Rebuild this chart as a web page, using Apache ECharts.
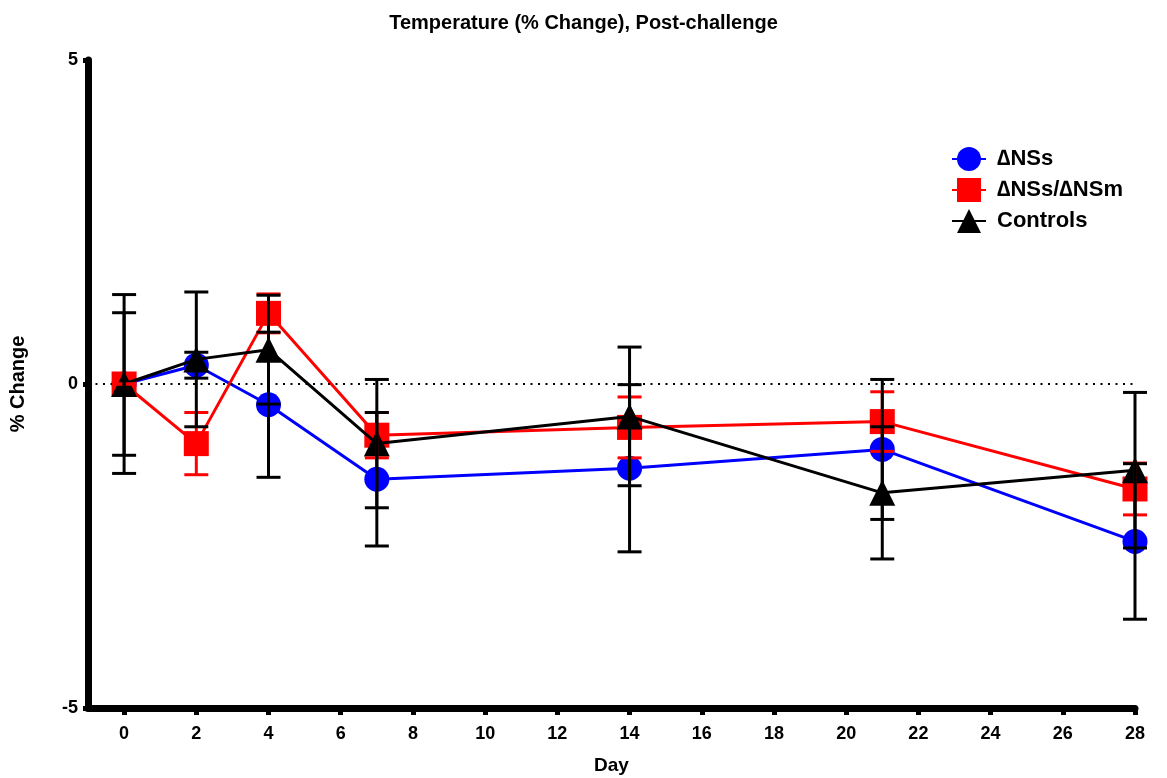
<!DOCTYPE html>
<html>
<head>
<meta charset="utf-8">
<title>Temperature (% Change), Post-challenge</title>
<script src="https://cdn.jsdelivr.net/npm/echarts@6/dist/echarts.min.js"></script>
<style>
    html, body { margin: 0; padding: 0; background: #fff; }
    #chart { width: 1167px; height: 778px; }
</style>
</head>
<body>
<div id="chart"></div>
<script>
// 数据 从图上读取
var days = [0, 2, 4, 7, 14, 21, 28]
var xTicks = [0, 2, 4, 6, 8, 10, 12, 14, 16, 18, 20, 22, 24, 26, 28]

var nssMean = [0, 0.29, -0.32, -1.47, -1.3, -1.01, -2.43]
var nssErr = [1.1, 0.2, 1.12, 1.03, 1.29, 1.08, 1.2]

var nsmMean = [0, -0.92, 1.09, -0.79, -0.67, -0.58, -1.62]
var nsmErr = [0, 0.48, 0.3, 0.35, 0.47, 0.46, 0.4]

var ctrlMean = [0, 0.38, 0.53, -0.92, -0.5, -1.68, -1.33]
var ctrlErr = [1.38, 1.04, 0.84, 0.99, 1.07, 1.02, 1.2]

var font = '"Liberation Sans Narrow", "Liberation Sans", Arial, sans-serif'
var legendFont = '"Liberation Sans", Arial, sans-serif'

function pairs(mean) {
    return days.map(function (d, i) { return [d, mean[i]] })
}
function errData(mean, err) {
    return days.map(function (d, i) { return [d, mean[i] - err[i], mean[i] + err[i]] })
}
// 误差线 竖线加两端横帽
function errRender(color) {
    return function (params, api) {
        var lo = api.coord([api.value(0), api.value(1)])
        var hi = api.coord([api.value(0), api.value(2)])
        var w = 12
        var style = { stroke: color, lineWidth: 3 }
        return {
            type: 'group',
            children: [
                { type: 'line', shape: { x1: lo[0], y1: lo[1], x2: hi[0], y2: hi[1] }, style: style },
                { type: 'line', shape: { x1: lo[0] - w, y1: lo[1], x2: lo[0] + w, y2: lo[1] }, style: style },
                { type: 'line', shape: { x1: hi[0] - w, y1: hi[1], x2: hi[0] + w, y2: hi[1] }, style: style },
            ],
        }
    }
}

var chart = echarts.init(document.getElementById('chart'))
var option = {
    animation: false,
    title: {
        text: 'Temperature (% Change), Post-challenge',
        left: 'center',
        top: 8,
        textStyle: { fontFamily: font, fontSize: 20, fontWeight: 'bold', color: '#000' },
    },
    legend: {
        orient: 'vertical',
        left: 946,
        top: 142,
        itemWidth: 34,
        itemHeight: 30,
        itemGap: 7,
        data: ['∆NSs', '∆NSs/∆NSm', 'Controls'],
        textStyle: {
            fontFamily: legendFont,
            fontSize: 22,
            fontWeight: 'bold',
            color: '#000',
            padding: [0, 0, 0, 6],
        },
    },
    grid: {
        left: 88,
        right: 32,
        top: 60,
        bottom: 70,
        outerBoundsMode: 'none',
        containLabel: false,
    },
    xAxis: {
        type: 'value',
        min: -1,
        max: 28,
        name: 'Day',
        nameLocation: 'middle',
        nameGap: 48,
        nameTextStyle: { fontFamily: font, fontSize: 19, fontWeight: 'bold', color: '#000' },
        axisLine: { onZero: false, lineStyle: { color: '#000', width: 7 } },
        axisTick: { customValues: xTicks, length: 7, lineStyle: { color: '#000', width: 5 } },
        axisLabel: {
            customValues: xTicks,
            margin: 17,
            fontFamily: font,
            fontSize: 18,
            fontWeight: 'bold',
            color: '#000',
        },
        splitLine: { show: false },
    },
    yAxis: {
        type: 'value',
        min: -5,
        max: 5,
        interval: 5,
        name: '% Change',
        nameLocation: 'middle',
        nameGap: 60,
        nameTextStyle: { fontFamily: font, fontSize: 20, fontWeight: 'bold', color: '#000' },
        axisLine: { onZero: false, lineStyle: { color: '#000', width: 7 } },
        axisTick: { length: 5, lineStyle: { color: '#000', width: 5 } },
        axisLabel: {
            margin: 10,
            fontFamily: font,
            fontSize: 18,
            fontWeight: 'bold',
            color: '#000',
        },
        splitLine: { show: false },
    },
    series: [
        {
            name: '∆NSs',
            type: 'line',
            data: pairs(nssMean),
            symbol: 'circle',
            symbolSize: 25,
            z: 2,
            itemStyle: { color: '#0000ff' },
            lineStyle: { color: '#0000ff', width: 3 },
            markLine: {
                silent: true,
                symbol: 'none',
                label: { show: false },
                lineStyle: { color: '#000', width: 2, type: [2, 5.5] },
                data: [{ yAxis: 0 }],
            },
        },
        {
            name: '∆NSs/∆NSm',
            type: 'line',
            data: pairs(nsmMean),
            symbol: 'rect',
            symbolSize: 25,
            z: 3,
            itemStyle: { color: '#ff0000' },
            lineStyle: { color: '#ff0000', width: 3 },
        },
        {
            name: 'Controls',
            type: 'line',
            data: pairs(ctrlMean),
            symbol: 'triangle',
            symbolSize: 26,
            z: 4,
            itemStyle: { color: '#000' },
            lineStyle: { color: '#000', width: 3 },
        },
        {
            type: 'custom',
            name: 'nsmErr',
            renderItem: errRender('#ff0000'),
            data: errData(nsmMean, nsmErr),
            encode: { x: 0, y: [1, 2] },
            z: 5,
        },
        {
            type: 'custom',
            name: 'nssErr',
            renderItem: errRender('#000'),
            data: errData(nssMean, nssErr),
            encode: { x: 0, y: [1, 2] },
            z: 6,
        },
        {
            type: 'custom',
            name: 'ctrlErr',
            renderItem: errRender('#000'),
            data: errData(ctrlMean, ctrlErr),
            encode: { x: 0, y: [1, 2] },
            z: 6,
        },
    ],
}
chart.setOption(option)
window.addEventListener('resize', chart.resize)
</script>
</body>
</html>
